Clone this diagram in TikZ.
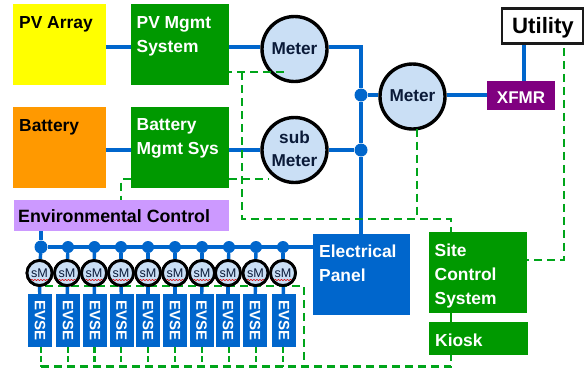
\documentclass[tikz,border=0pt]{standalone}
\usepackage{fontspec}
\setmainfont{Liberation Sans}
\usetikzlibrary{decorations.pathmorphing}
\definecolor{bluel}{HTML}{0066CC}
\definecolor{greenb}{HTML}{009900}
\definecolor{greend}{HTML}{00A51A}
\definecolor{meterf}{HTML}{CADFF5}
\definecolor{navy}{HTML}{0A1A38}
\definecolor{yel}{HTML}{FFFF00}
\definecolor{ora}{HTML}{FF9900}
\definecolor{vio}{HTML}{CC99FF}
\definecolor{pur}{HTML}{800080}
\definecolor{utilb}{HTML}{1A1A1A}
\tikzset{
 x=1pt,y=-1pt,
 box/.style={rectangle,draw=none,inner sep=0pt,anchor=north west},
 blk/.style={inner sep=0pt,anchor=west,font=\fontsize{17.4}{24}\bfseries\selectfont,align=left,text=black},
 wht/.style={blk,text=white},
 busline/.style={draw=bluel,line width=4.5pt},
 ctl/.style={draw=greend,line width=2.2pt,dash pattern=on 8pt off 5pt},
 ctlsolid/.style={draw=greenb,line width=2.2pt},
 meter/.style={circle,draw=black,line width=3.4pt,fill=meterf,minimum size=65pt,inner sep=0pt,align=center,font=\fontsize{17.2}{22}\bfseries\selectfont,text=navy},
 smeter/.style={circle,draw=black,line width=2.8pt,fill=meterf,minimum size=25pt,inner sep=0pt,font=\fontsize{12.6}{14}\selectfont,text=navy},
 dot/.style={circle,fill=bluel,inner sep=0pt},
 evsebox/.style={rectangle,fill=bluel,inner sep=0pt,minimum height=53pt,text=white,font=\fontsize{15}{15}\bfseries\selectfont},
 squig/.style={draw=red!85!black,line width=.6pt,decorate,decoration={snake,amplitude=.6pt,segment length=3pt}},
}
\newcommand{\bx}[6]{\node[box,fill=#6,minimum width=#4pt-#2pt,minimum height=#5pt-#3pt] (#1) at (#2,#3) {};}
\begin{document}
\begin{tikzpicture}
\useasboundingbox (0,0) rectangle (584,368);
% boxes
\bx{pvarr}{13}{4}{105.5}{85}{yel}
\bx{pvm}{130.5}{4}{228.5}{85}{greenb}
\bx{batt}{13}{107}{105.5}{188}{ora}
\bx{batm}{130.5}{107}{228.5}{188}{greenb}
\bx{env}{14}{200}{229}{231}{vio}
\bx{panel}{312.5}{233.5}{410}{315}{bluel}
\bx{site}{429}{232}{527}{313}{greenb}
\bx{kiosk}{429}{322}{527.5}{355}{greenb}
\bx{xfmr}{487}{81}{555}{110}{pur}
\node[rectangle,draw=utilb,fill=white,line width=2.6pt,minimum width=81pt,minimum height=35pt,inner sep=0pt] (util) at (542.5,26) {};
% meters
\node[meter] (m1) at (294.5,49) {};
\node[meter] (m2) at (294.5,150) {};
\node[meter] (m3) at (412.5,96.5) {};
% junctions
\node[dot,minimum size=13pt] (ja) at (361,95) {};
\node[dot,minimum size=13pt] (jb) at (361,150) {};
\coordinate (corner) at (361,47);
% power lines
\draw[busline] (pvarr.east|-0,47) -- (pvm.west|-0,47);
\draw[busline] (pvm.east|-0,47) -- (m1.west|-0,47);
\draw[busline] (batt.east|-0,150) -- (batm.west|-0,150);
\draw[busline] (batm.east|-0,150) -- (m2.west);
\draw[busline] (m1.east|-corner) -- (corner) -- (ja) -- (jb) -- (panel.north-|corner);
\draw[busline] (jb) -- (m2.east);
\draw[busline] (ja) -- (m3.west|-ja);
\draw[busline] (m3.east|-ja) -- (xfmr.west|-ja);
\draw[busline] (util.south-|524,0) -- (xfmr.north-|524,0);
% control lines, upper part
\coordinate (ca) at (242,72);
\coordinate (cb) at (242,219);
\coordinate (cc) at (451,219);
\coordinate (cd) at (417,219);
\coordinate (ce) at (121,179);
\coordinate (cf) at (564,260);
\draw[ctl] (m1.center|-ca) ++(-11,0) -- (pvm.east|-ca);
\draw[ctl] (ca) -- (cb) -- (cc) -- (site.north-|cc);
\draw[ctl] (m3.south-|cd) ++(0,-2) -- (cd);
\draw[ctl] (util.south-|cf) ++(0,3) -- (cf) -- (site.east|-cf);
\draw[ctl] (batm.east|-ce) -- (268,179);
\draw[ctl] (batm.west|-ce) -- (ce) -- (env.north-|ce);
\draw[ctlsolid] (site.south-|cc) -- (kiosk.north-|cc);
% bus
\coordinate (busend) at (312.5,247);
\node[dot,minimum size=13pt] (j1) at (41,247) {};
\draw[busline] (j1) -- (busend);
\draw[busline] (env.south-|j1) -- (j1);
% evse groups
\coordinate (botl) at (41,366.5);
\coordinate (botr) at (451,366.5);
\coordinate (rise) at (304,286);
\draw[ctl] (45,286) -- (rise) -- (rise|-botl);
\draw[ctl] (botl) -- (botr) -- (kiosk.south-|botr);
\foreach \i/\cx/\bxc/\jx in {1/39.5/40/41,2/67/68/68,3/94/95/94.5,4/121/121.5/121,5/148/148/148,6/175/175/175,7/202/201.5/202,8/228/228/229,9/255.5/255/256,10/283/284/283}{
  \node[smeter] (sm\i) at (\cx,273) {};
  \node[evsebox,minimum width=24pt] (ev\i) at (\bxc,320.5) {\rotatebox{-90}{EVSE}};
  \node[dot,minimum size=12pt] (jj\i) at (\jx,247) {};
  \draw[busline,line width=3.4pt] (jj\i) -- (sm\i);
  \draw[busline,line width=3.4pt] (sm\i) -- (ev\i);
  \node[smeter] at (sm\i) {sM};
  \draw[squig] ([shift={(-8.5,7)}]sm\i.center) -- ++(17,0);
  \draw[ctl,dash pattern=on 6pt off 3pt] (ev\i.south-|jj\i) -- (jj\i|-botl);
}
% labels
\node[blk] (t1) at (19,24) {PV Array};
\node[wht] (t2) at (136.5,36) {PV Mgmt\\System};
\node[blk] (t3) at (19,127) {Battery};
\node[wht] (t4) at (136.5,138.5) {Battery\\Mgmt Sys};
\node[blk,font=\fontsize{17.8}{24}\bfseries\selectfont] (t5) at (18,216.5) {Environmental Control};
\node[wht] (t6) at (319,263.5) {Electrical\\Panel};
\node[wht] (t7) at (434.5,276) {Site\\Control\\System};
\node[wht] (t8) at (435,340.5) {Kiosk};
\node[wht,anchor=center,font=\fontsize{17}{20}\bfseries\selectfont] (t9) at (521,97.5) {XFMR};
\node[meter,fill=none,draw=none] (t10) at (294.5,49) {Meter};
\node[meter,fill=none,draw=none] (t12) at (412.5,95.5) {Meter};
\node[meter,fill=none,draw=none,font=\fontsize{17.2}{22.5}\bfseries\selectfont] (t11) at (294.5,149) {sub\\Meter};
\node[inner sep=0pt,font=\fontsize{22.2}{24}\bfseries\selectfont] (t13) at (543,27.5) {Utility};
\end{tikzpicture}
\end{document}
